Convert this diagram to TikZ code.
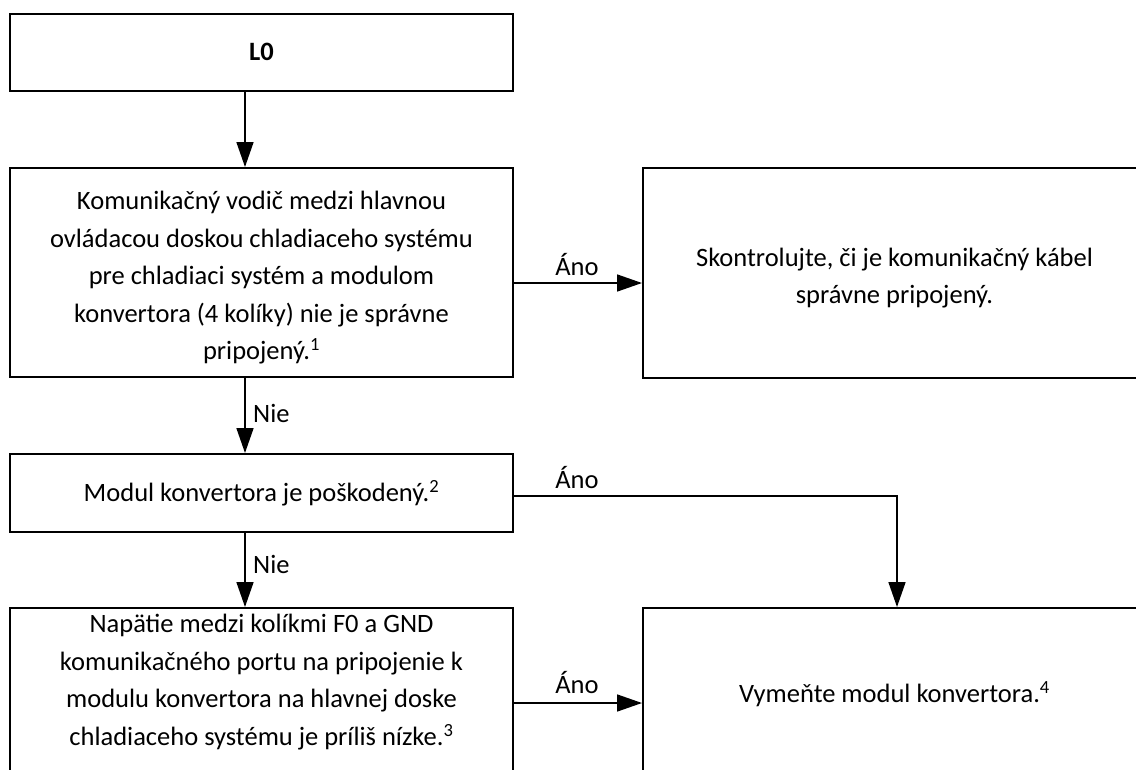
\documentclass[tikz,border=0pt]{standalone}
\usepackage{fontspec}
\setmainfont{Carlito}
\usetikzlibrary{arrows.meta}
\begin{document}
\begin{tikzpicture}[x=1pt,y=-1pt,
  box/.style={draw=black,line width=2pt,rectangle,inner sep=0pt,align=center,
    font=\fontsize{26.5}{37.5}\selectfont},
  txt/.style={align=center,inner sep=0pt,font=\fontsize{26.5}{37.5}\selectfont},
  lbl/.style={inner sep=0pt,font=\fontsize{26.5}{30}\selectfont},
  arr/.style={line width=1.6pt,-{Triangle[length=25pt,width=17pt]}},
  ln/.style={line width=1.6pt}]
\useasboundingbox (0,0) rectangle (1136,769);
\clip (0,0) rectangle (1136,769);
% boxes
\node[box,minimum width=503pt,minimum height=77pt] (L0) at (261.5,52.3) {\textbf{L0}};
\node[box,minimum width=503pt,minimum height=209pt] (b2) at (261.5,272.5) {};
\node[txt] (b2t) at (261.5,278) {Komunikačný vodič medzi hlavnou\\ovládacou doskou chladiaceho systému\\pre chladiaci systém a modulom\\konvertora (4 kolíky) nie je správne\\pripojený.\textsuperscript{1}};
\node[box,minimum width=503pt,minimum height=210pt] (b2r) at (894.5,273) {};
\node[txt] (b2rt) at (894.5,278) {Skontrolujte, či je komunikačný kábel\\správne pripojený.};
\node[box,minimum width=503pt,minimum height=78pt] (b3) at (261.5,493) {Modul konvertora je poškodený.\textsuperscript{2}};
\node[box,minimum width=503pt,minimum height=182pt] (b4) at (261.5,699) {};
\node[txt] (b4t) at (261.5,682) {Napätie medzi kolíkmi F0 a GND\\komunikačného portu na pripojenie k\\modulu konvertora na hlavnej doske\\chladiaceho systému je príliš nízke.\textsuperscript{3}};
\node[box,minimum width=503pt,minimum height=182pt] (b4r) at (894.5,699) {};
\node[txt] (b4rt) at (894.5,694) {Vymeňte modul konvertora.\textsuperscript{4}};
% connectors
\coordinate (xa) at (245,0);
\coordinate (y1) at (0,283);
\coordinate (y2) at (0,496);
\coordinate (y3) at (0,703);
\coordinate (xd) at (897,0);
\draw[arr] (L0.south -| xa) -- (b2.north -| xa);
\draw[arr] (b2.south -| xa) -- (b3.north -| xa);
\draw[arr] (b3.south -| xa) -- (b4.north -| xa);
\draw[arr] (b2.east |- y1) -- (b2r.west |- y1);
\draw[arr] (b3.east |- y2) -| (b4r.north -| xd);
\draw[arr] (b4.east |- y3) -- (b4r.west |- y3);
% labels
\node[lbl,anchor=west] (n1) at (253,413) {Nie};
\node[lbl,anchor=west] (n2) at (253,564) {Nie};
\node[lbl] (a1) at (577,265) {Áno};
\node[lbl] (a2) at (577,478) {Áno};
\node[lbl] (a3) at (577,683) {Áno};
\end{tikzpicture}
\end{document}
